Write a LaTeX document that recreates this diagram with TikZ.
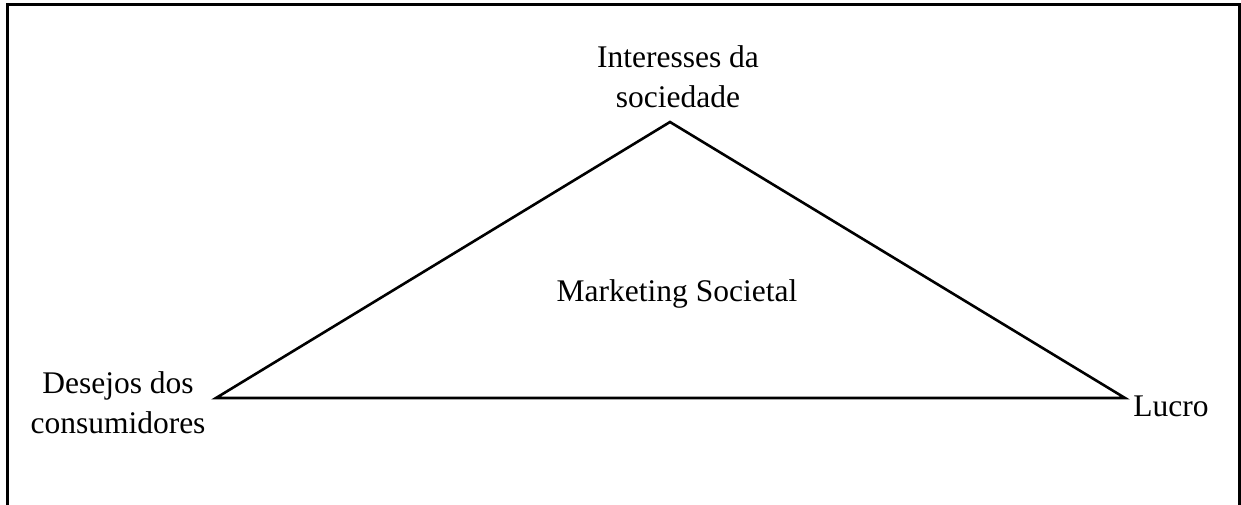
\documentclass[tikz,border=0pt]{standalone}
\usepackage{fontspec}
\setmainfont{Liberation Serif}
\begin{document}
\begin{tikzpicture}[x=1pt,y=-1pt,
  lbl/.style={inner sep=0pt,anchor=base,align=center,
    font=\fontsize{31.5pt}{40pt}\selectfont},
  edge/.style={line width=2.6pt,line join=miter}]
\useasboundingbox (0,0) rectangle (1241,504);
% outer frame
\draw[line width=3pt] (7,515) -- (7,4) -- (1239.5,4) -- (1239.5,515);
% triangle corners
\coordinate (apex) at (670,122);
\coordinate (left) at (216,398);
\coordinate (right) at (1125,398);
\draw[edge] (left) -- (apex) -- (right) -- cycle;
% labels (base anchor sits on the last line)
\node[lbl] (soc) at (678,107) {Interesses da\\sociedade};
\node[lbl] (cons) at (118,433) {Desejos dos\\consumidores};
\node[lbl] (lucro) at (1171,416) {Lucro};
\node[lbl] (mkt) at (677,301) {Marketing Societal};
\end{tikzpicture}
\end{document}
